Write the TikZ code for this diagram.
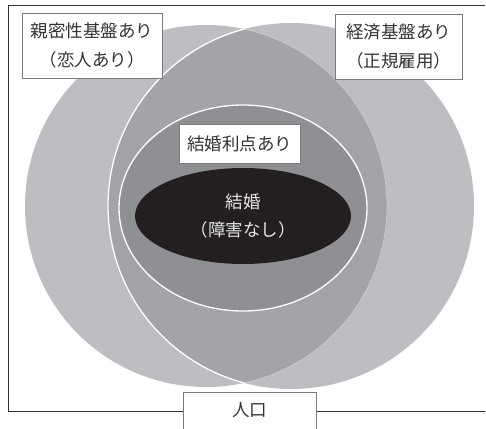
\documentclass[tikz,border=0pt]{standalone}
\usepackage{fontspec}
\newfontfamily\cjk{Noto Sans CJK JP}
\definecolor{cone}{HTML}{BDBEC2}
\definecolor{clens}{HTML}{A3A4A8}
\definecolor{cinner}{HTML}{8F9094}
\definecolor{cblack}{HTML}{231F20}
\definecolor{cedge}{HTML}{CACBCE}
\definecolor{ctext}{HTML}{333333}
\definecolor{cbox}{HTML}{7A7A7A}
\definecolor{cwtext}{HTML}{E6E6E6}
\begin{document}
\begin{tikzpicture}[x=1pt,y=-1pt,
  labelbox/.style={draw=cbox, line width=0.9pt, fill=white, inner sep=0pt,
    align=center, text=ctext, font=\cjk\fontsize{17.5}{29}\selectfont},
  frameline/.style={draw=ctext, line width=1pt}]
\useasboundingbox (0,0) rectangle (486,428);
% circles
\fill[cone] (206,206) circle[radius=181pt];
\fill[cone] (291,206) circle[radius=183pt];
\begin{scope}
  \clip (206,206) circle[radius=181pt];
  \fill[clens] (291,206) circle[radius=183pt];
  \draw[white, line width=1.3pt] (291,206) circle[radius=183pt];
\end{scope}
\begin{scope}
  \clip (291,206) circle[radius=183pt];
  \draw[cedge, line width=0.7pt] (206,206) circle[radius=181pt];
\end{scope}
% inner ellipses
\filldraw[fill=cinner, draw=white, line width=1.3pt] (243,208) ellipse[x radius=124pt, y radius=103pt];
\fill[cblack] (243,216) ellipse[x radius=108pt, y radius=48pt];
% frame
\coordinate (ftr) at (485,6);
\coordinate (ftl) at (8,6);
\coordinate (fbl) at (8,411.5);
\coordinate (fbr) at (485,411.5);
\draw[frameline] (ftr) -- (ftl) -- (fbl) -- (fbr);
% labels
\node[labelbox, minimum width=140pt, minimum height=65pt] (intimacy) at (92,45.5)
  {親密性基盤あり\\（恋人あり）};
\node[labelbox, minimum width=127pt, minimum height=65pt] (economy) at (398.5,46.5)
  {経済基盤あり\\（正規雇用）};
\node[labelbox, minimum width=121pt, minimum height=39pt] (benefit) at (239.5,143.5)
  {結婚利点あり};
\node[align=center, text=cwtext, font=\cjk\fontsize{17.5}{28}\selectfont] (marriage) at (243,216)
  {結婚\\（障害なし）};
\node[labelbox, minimum width=133pt, minimum height=50pt, anchor=north] (pop) at (249.5,392) {};
\node[text=ctext, font=\cjk\fontsize{17.5}{29}\selectfont] (poptext) at (249.5,410) {人口};
\end{tikzpicture}
\end{document}
